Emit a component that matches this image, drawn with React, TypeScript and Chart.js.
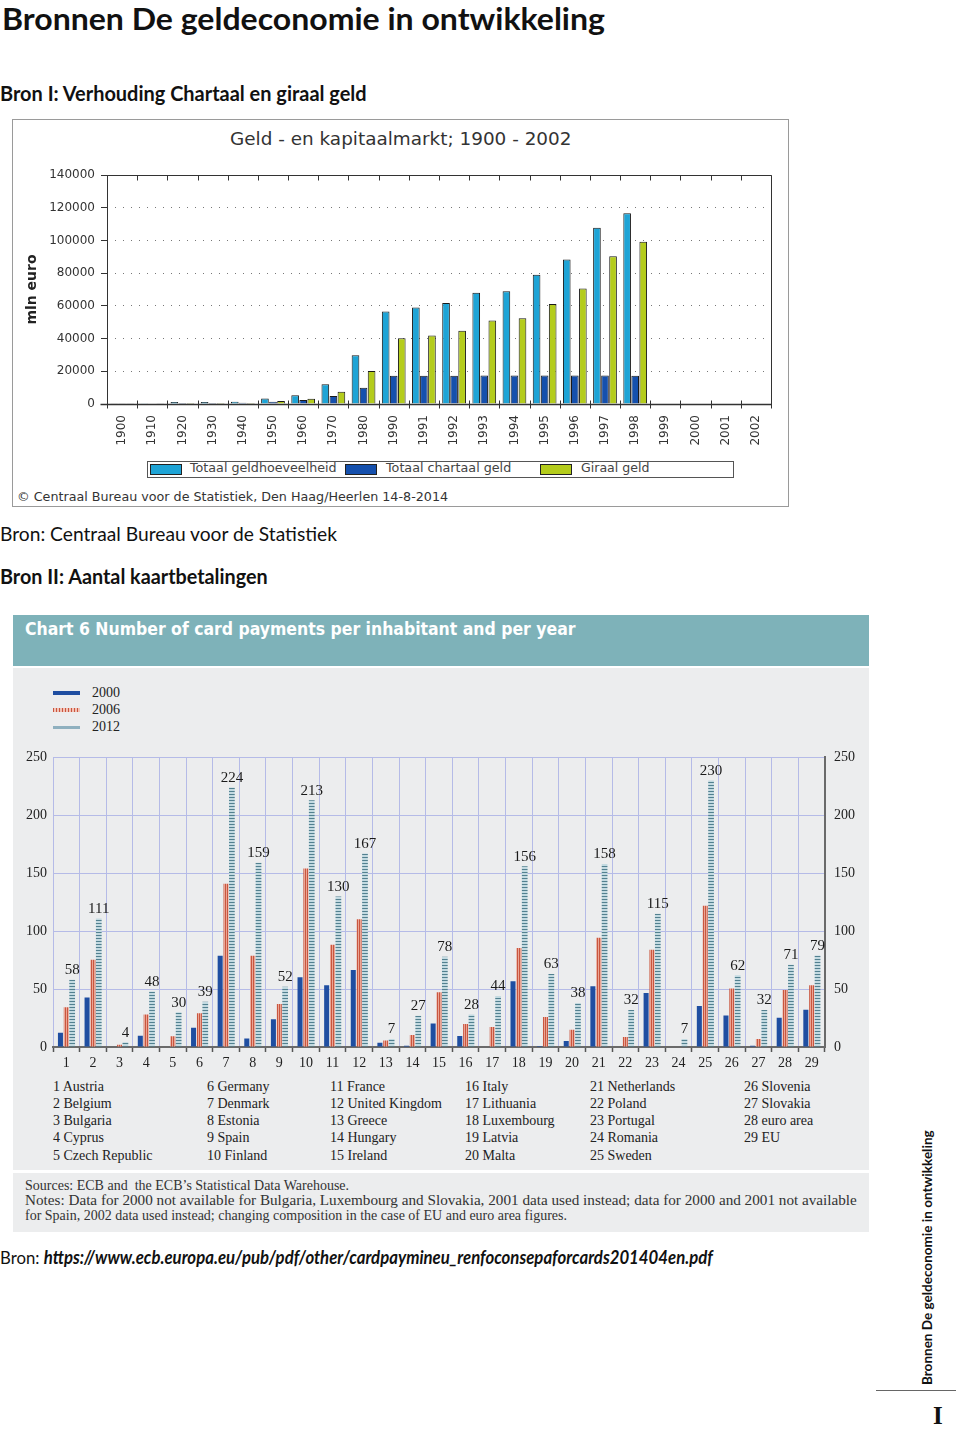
import React, { useEffect, useLayoutEffect, useRef } from "react";
import { Chart, registerables } from "chart.js";

Chart.register(...registerables);

// ---------- Data: Bron I ----------
const geldYears = ["1900", "1910", "1920", "1930", "1940", "1950", "1960", "1970", "1980", "1990", "1991", "1992", "1993", "1994", "1995", "1996", "1997", "1998", "1999", "2000", "2001", "2002"];
const totaalGeld = [400, 500, 1200, 1200, 1400, 3300, 5300, 12000, 29800, 56500, 59000, 61800, 68000, 69000, 79000, 88300, 107800, 116600, null, null, null, null];
const chartaalGeld = [200, 300, 600, 600, 800, 1400, 2400, 4900, 10000, 17200, 17200, 17200, 17500, 17500, 17500, 17500, 17500, 17200, null, null, null, null];
const giraalGeld = [200, 200, 600, 600, 600, 1800, 3200, 7500, 20200, 40200, 41900, 44800, 51000, 52400, 61200, 70600, 90400, 99200, null, null, null, null];
const geldSeriesNames = ["Totaal geldhoeveelheid", "Totaal chartaal geld", "Giraal geld"];

// ---------- Data: Bron II ----------
const countryNumbers = ["1", "2", "3", "4", "5", "6", "7", "8", "9", "10", "11", "12", "13", "14", "15", "16", "17", "18", "19", "20", "21", "22", "23", "24", "25", "26", "27", "28", "29"];
const countryNames = ["Austria", "Belgium", "Bulgaria", "Cyprus", "Czech Republic", "Germany", "Denmark", "Estonia", "Spain", "Finland", "France", "United Kingdom", "Greece", "Hungary", "Ireland", "Italy", "Lithuania", "Luxembourg", "Latvia", "Malta", "Netherlands", "Poland", "Portugal", "Romania", "Sweden", "Slovenia", "Slovakia", "euro area", "EU"];
const pay2000 = [12.3, 42.7, 0, 9.7, 0, 16.6, 78.8, 7.4, 24, 60.2, 53.3, 66.5, 3.7, 1, 20.3, 9.5, 0, 56.7, 0.8, 5.2, 52.4, 0, 46.7, 0, 35.5, 27.2, 1.1, 25.2, 32.1];
const pay2006 = [34.4, 75.4, 2, 28, 9.2, 29.2, 141, 78.8, 37.2, 154, 88.3, 110.3, 5.7, 10.3, 47.3, 19.8, 17.2, 85.4, 25.8, 14.9, 94.3, 8.6, 84, 0, 122, 50.4, 6.9, 49.3, 53.3];
const pay2012 = [58, 111, 4, 48, 30, 39, 224, 159, 52, 213, 130, 167, 7, 27, 78, 28, 44, 156, 63, 38, 158, 32, 115, 7, 230, 62, 32, 71, 79];
const payYears = ["2000", "2006", "2012"];

const LATO = "Lato, 'Open Sans', sans-serif";
const VERD = "'DejaVu Sans', Verdana, sans-serif";
const SERIF = "'Liberation Serif', 'Times New Roman', serif";

type TxtProps = {
  x: number;
  cy: number;
  size: number;
  w?: number;
  family?: string;
  weight?: number | string;
  italic?: boolean;
  color?: string;
  rotate?: boolean;
  children: React.ReactNode;
};

function Txt({ x, cy, size, w, family = LATO, weight = 400, italic, color = "#111", rotate, children }: TxtProps) {
  const ref = useRef<HTMLDivElement>(null);
  useLayoutEffect(() => {
    const el = ref.current;
    if (!el) return;
    const natural = el.offsetWidth;
    const s = w && natural ? w / natural : 1;
    el.style.transform = rotate ? `rotate(-90deg) scaleX(${s})` : `scaleX(${s})`;
  }, [w, rotate]);
  const lh = size * 1.2;
  const style: React.CSSProperties = {
    position: "absolute",
    whiteSpace: "pre",
    fontFamily: family,
    fontSize: size,
    fontWeight: weight as any,
    fontStyle: italic ? "italic" : "normal",
    color,
    lineHeight: `${lh}px`,
    transformOrigin: "0 0",
    left: rotate ? x - lh / 2 : x,
    top: rotate ? cy : cy - lh / 2,
  };
  return (
    <div ref={ref} style={style}>
      {children}
    </div>
  );
}

function GeldChart() {
  const ref = useRef<HTMLCanvasElement>(null);
  useEffect(() => {
    const canvas = ref.current;
    if (!canvas) return;
    const framePlugin = {
      id: "frame",
      afterDraw(chart: any) {
        const { ctx, chartArea: a } = chart;
        const xs = chart.scales.x;
        ctx.save();
        ctx.strokeStyle = "#333";
        ctx.lineWidth = 1;
        const L = Math.round(a.left) + 0.5;
        const T = Math.round(a.top) + 0.5;
        const R = Math.round(a.right) + 0.5;
        const B = Math.round(a.bottom) + 0.5;
        ctx.beginPath();
        ctx.moveTo(L, T);
        ctx.lineTo(R, T);
        ctx.lineTo(R, B);
        ctx.lineTo(L, B);
        ctx.closePath();
        ctx.stroke();
        ctx.lineWidth = 1.5;
        ctx.beginPath();
        ctx.moveTo(L - 7, B);
        ctx.lineTo(R, B);
        ctx.stroke();
        ctx.lineWidth = 1;
        for (let i = 0; i <= geldYears.length; i++) {
          const px = Math.round(xs.getPixelForValue(i - 0.5)) + 0.5;
          ctx.beginPath();
          ctx.moveTo(px, T);
          ctx.lineTo(px, T + 5);
          ctx.moveTo(px, B - 4);
          ctx.lineTo(px, B + 4);
          ctx.stroke();
        }
        ctx.restore();
      },
    };
    const tickFont = { family: "DejaVu Sans", size: 12 };
    const chart = new Chart(canvas, {
      type: "bar",
      data: {
        labels: geldYears,
        datasets: [
          { label: geldSeriesNames[0], data: totaalGeld, backgroundColor: "#1ea4d6", borderColor: "#1a1a1a", borderWidth: 1 },
          { label: geldSeriesNames[1], data: chartaalGeld, backgroundColor: "#1550ad", borderColor: "#1a1a1a", borderWidth: 1 },
          { label: geldSeriesNames[2], data: giraalGeld, backgroundColor: "#b4cc1c", borderColor: "#1a1a1a", borderWidth: 1 },
        ],
      },
      options: {
        responsive: false,
        maintainAspectRatio: false,
        animation: false,
        layout: { padding: { top: 25, right: 17, bottom: 0, left: 0 } },
        plugins: { legend: { display: false }, tooltip: { enabled: false }, title: { display: false } },
        datasets: { bar: { categoryPercentage: 0.8, barPercentage: 0.95 } },
        scales: {
          x: {
            grid: { drawOnChartArea: false, drawTicks: false },
            border: { display: false },
            ticks: { autoSkip: false, maxRotation: 90, minRotation: 90, padding: 11, font: tickFont, color: "#333" },
            afterFit: (s: any) => {
              s.height = 46;
            },
          },
          y: {
            min: 0,
            max: 140000,
            ticks: { stepSize: 20000, padding: 6, font: tickFont, color: "#333", callback: (v: any) => String(v) },
            grid: { color: "#777", lineWidth: 1, tickLength: 6, tickColor: "#333" },
            border: { display: false, dash: [1, 7] },
            title: {
              display: true,
              text: "mln euro",
              font: { family: "DejaVu Sans", size: 14, weight: "bold" },
              color: "#222",
              padding: { top: 12, bottom: 0 },
            },
            afterFit: (s: any) => {
              s.width = 95;
            },
          },
        },
      } as any,
      plugins: [framePlugin],
    });
    return () => chart.destroy();
  }, []);
  return <canvas ref={ref} width={776} height={300} style={{ position: "absolute", left: 12, top: 150 }} />;
}

function CardChart() {
  const ref = useRef<HTMLCanvasElement>(null);
  useEffect(() => {
    const canvas = ref.current;
    if (!canvas) return;
    const mk = (w: number, h: number, draw: (g: CanvasRenderingContext2D) => void) => {
      const c = document.createElement("canvas");
      c.width = w;
      c.height = h;
      const g = c.getContext("2d")!;
      draw(g);
      return g.createPattern(c, "repeat")!;
    };
    const redPat = mk(2, 1, (g) => {
      g.fillStyle = "#eaa595";
      g.fillRect(0, 0, 2, 1);
      g.fillStyle = "#c9563f";
      g.fillRect(0, 0, 1, 1);
    });
    const tealPat = mk(1, 3, (g) => {
      g.fillStyle = "#c3dae1";
      g.fillRect(0, 0, 1, 3);
      g.fillStyle = "#52808f";
      g.fillRect(0, 0, 1, 1);
    });
    const labelPlugin = {
      id: "valueLabels",
      afterDatasetsDraw(chart: any) {
        const meta = chart.getDatasetMeta(2);
        const ctx = chart.ctx;
        ctx.save();
        ctx.font = `15px ${SERIF}`;
        ctx.fillStyle = "#1a1a1a";
        ctx.textAlign = "center";
        ctx.textBaseline = "bottom";
        meta.data.forEach((el: any, i: number) => {
          ctx.fillText(String(pay2012[i]), el.x, el.y - 2);
        });
        ctx.restore();
      },
    };
    const font = { family: "Liberation Serif", size: 14 };
    const lav = "#b5bbe7";
    const chart = new Chart(canvas, {
      type: "bar",
      data: {
        labels: countryNumbers,
        datasets: [
          { label: payYears[0], data: pay2000, backgroundColor: "#1f4ea1", borderWidth: 0 },
          { label: payYears[1], data: pay2006, backgroundColor: redPat, borderWidth: 0 },
          { label: payYears[2], data: pay2012, backgroundColor: tealPat, borderWidth: 0, barPercentage: 0.98 },
        ],
      },
      options: {
        responsive: false,
        maintainAspectRatio: false,
        animation: false,
        layout: { padding: { top: 16, right: 0, bottom: 0, left: 0 } },
        plugins: { legend: { display: false }, tooltip: { enabled: false }, title: { display: false } },
        datasets: { bar: { categoryPercentage: 0.66, barPercentage: 0.86 } },
        scales: {
          x: {
            grid: { offset: true, color: lav, lineWidth: 1, tickLength: 5, tickColor: "#555", tickWidth: 1.5 },
            border: { color: "#6a6a6a", width: 2 },
            ticks: { autoSkip: false, maxRotation: 0, padding: 3, font, color: "#222" },
            afterFit: (s: any) => {
              s.height = 28;
            },
          },
          y: {
            position: "left",
            min: 0,
            max: 250,
            ticks: { stepSize: 50, padding: 6, font, color: "#222" },
            grid: { color: lav, drawTicks: false },
            border: { display: false },
            afterFit: (s: any) => {
              s.width = 40;
            },
          },
          y2: {
            position: "right",
            min: 0,
            max: 250,
            ticks: { stepSize: 50, padding: 9, font, color: "#222" },
            grid: { drawOnChartArea: false, drawTicks: false },
            border: { color: "#6a6a6a", width: 2 },
            afterFit: (s: any) => {
              s.width = 44;
            },
          },
        },
      } as any,
      plugins: [labelPlugin],
    });
    return () => chart.destroy();
  }, []);
  return <canvas ref={ref} width={856} height={335} style={{ position: "absolute", left: 13, top: 740 }} />;
}

const geldColors = ["#1ea4d6", "#1550ad", "#b4cc1c"];
const geldLegendX = [150, 345, 540];
const geldLegendTextX = [190, 386, 581];
const geldLegendTextW = [147, 125, 68];

const listColX = [53, 207, 330, 465, 590, 744];
const listRowY = [1087, 1104, 1121, 1138, 1156];

export default function App() {
  return (
    <div style={{ position: "absolute", left: 0, top: 0, width: 960, height: 1429, background: "#fff", overflow: "hidden" }}>
      <Txt x={2} cy={17.5} size={30} w={603} weight={700}>Bronnen De geldeconomie in ontwikkeling</Txt>
      <Txt x={0} cy={92.5} size={20} w={367} weight={700}>Bron I: Verhouding Chartaal en giraal geld</Txt>

      {/* Bron I chart box */}
      <div style={{ position: "absolute", left: 12, top: 119, width: 777, height: 388, border: "1px solid #9a9a9a", boxSizing: "border-box" }} />
      <Txt x={230} cy={139} size={17} w={342} family={VERD} color="#333">Geld - en kapitaalmarkt; 1900 - 2002</Txt>
      <GeldChart />
      <div style={{ position: "absolute", left: 147, top: 461, width: 587, height: 17, border: "1px solid #555", boxSizing: "border-box" }} />
      {geldSeriesNames.map((n, i) => (
        <React.Fragment key={n}>
          <div style={{ position: "absolute", left: geldLegendX[i], top: 464, width: 32, height: 11, background: geldColors[i], border: "1px solid #222", boxSizing: "border-box" }} />
          <Txt x={geldLegendTextX[i]} cy={468.5} size={12} w={geldLegendTextW[i]} family={VERD} color="#444">{n}</Txt>
        </React.Fragment>
      ))}
      <Txt x={17} cy={497} size={12} w={431} family={VERD} color="#333">© Centraal Bureau voor de Statistiek, Den Haag/Heerlen 14-8-2014</Txt>

      <Txt x={0} cy={532.5} size={20} w={337}>Bron: Centraal Bureau voor de Statistiek</Txt>
      <Txt x={0} cy={575.5} size={20} w={268} weight={700}>Bron II: Aantal kaartbetalingen</Txt>

      {/* Bron II chart */}
      <div style={{ position: "absolute", left: 13, top: 615, width: 856, height: 51, background: "#7eb2b9" }} />
      <Txt x={25} cy={629} size={17} w={550} weight={700} family="'DejaVu Sans Condensed', 'DejaVu Sans', sans-serif" color="#fff">Chart 6 Number of card payments per inhabitant and per year</Txt>
      <div style={{ position: "absolute", left: 13, top: 668, width: 856, height: 502, background: "#ecedee" }} />
      <div style={{ position: "absolute", left: 13, top: 1173, width: 856, height: 59, background: "#ecedee" }} />

      <div style={{ position: "absolute", left: 53, top: 691, width: 27, height: 4, background: "#1f4ea1" }} />
      <div style={{ position: "absolute", left: 53, top: 708, width: 27, height: 4, background: "repeating-linear-gradient(90deg, #c9563f 0 1px, #f2c2b6 1px 3px)" }} />
      <div style={{ position: "absolute", left: 53, top: 726, width: 27, height: 3, background: "#8fb0bf" }} />
      {payYears.map((y, i) => (
        <Txt key={y} x={92} cy={693 + i * 17} size={14} family={SERIF} color="#222">{y}</Txt>
      ))}

      <CardChart />

      {countryNames.map((n, i) => (
        <Txt key={n} x={listColX[Math.floor(i / 5)]} cy={listRowY[i % 5]} size={14} family={SERIF} color="#222">{`${countryNumbers[i]} ${n}`}</Txt>
      ))}

      <Txt x={25} cy={1186} size={14} family={SERIF} color="#333">Sources: ECB and  the ECB’s Statistical Data Warehouse.</Txt>
      <Txt x={25} cy={1201} size={14} w={832} family={SERIF} color="#333">Notes: Data for 2000 not available for Bulgaria, Luxembourg and Slovakia, 2001 data used instead; data for 2000 and 2001 not available</Txt>
      <Txt x={25} cy={1216} size={14} family={SERIF} color="#333">for Spain, 2002 data used instead; changing composition in the case of EU and euro area figures.</Txt>

      <Txt x={0} cy={1258} size={18} w={713}>
        <span>Bron: </span>
        <span style={{ fontWeight: 700, fontStyle: "italic" }}>https://www.ecb.europa.eu/pub/pdf/other/cardpaymineu_renfoconsepaforcards201404en.pdf</span>
      </Txt>

      {/* side bar */}
      <Txt x={927.5} cy={1385} size={14} w={255} weight={700} rotate>Bronnen De geldeconomie in ontwikkeling</Txt>
      <div style={{ position: "absolute", left: 876, top: 1390, width: 80, height: 1, background: "#666" }} />
      <Txt x={933} cy={1416} size={25} weight={700} family={SERIF} color="#111">I</Txt>
    </div>
  );
}
